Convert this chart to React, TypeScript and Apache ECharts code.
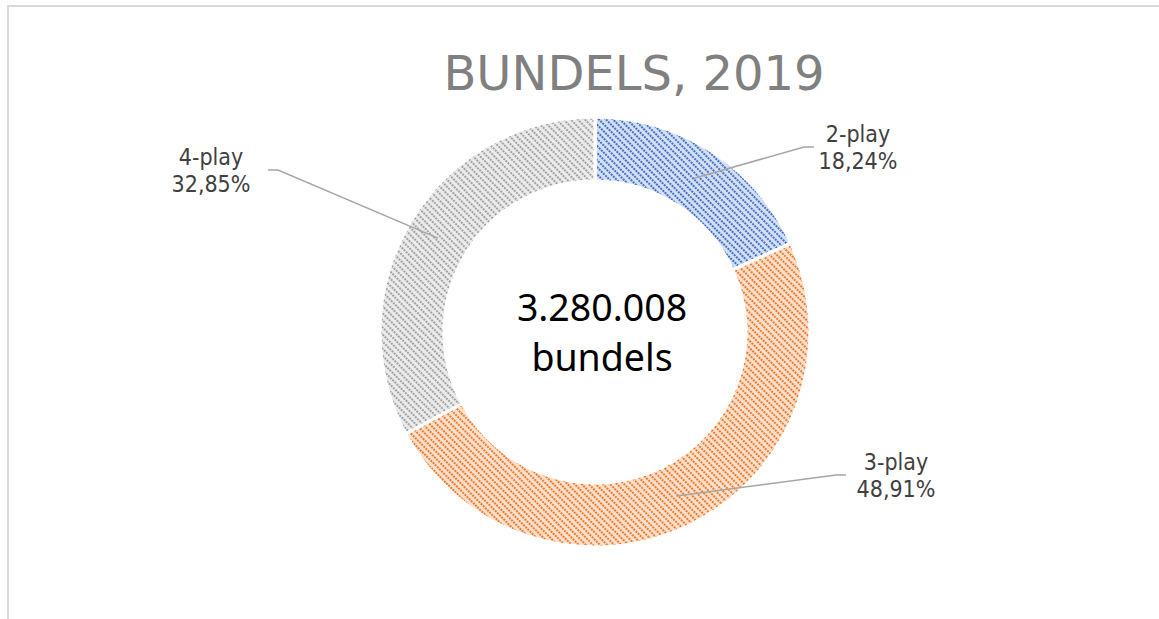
import React, { useEffect, useRef } from "react";
import * as echarts from "echarts";

const categories = ["2-play", "3-play", "4-play"];
const shares = [18.24, 48.91, 32.85];
const totalLabel = "3.280.008";
const totalUnit = "bundels";
const titleText = "BUNDELS, 2019";

const baseColors = ["#d3dff4", "#fcdfcb", "#ebebeb"];
const lineColors = ["#4472c4", "#ed7d31", "#a3a3a3"];

// layout (px)
const CX = 595;
const CY = 332;
const R_IN = 151;
const R_OUT = 215;
const labelPos = [
  [858, 147],
  [896, 475],
  [211, 170],
];
const lineEndX = [814, 846, 268];

export default function App() {
  const ref = useRef<HTMLDivElement>(null);
  useEffect(() => {
    if (!ref.current) return;
    const chart = echarts.init(ref.current, null, { renderer: "svg" });
    const total = shares.reduce((a, b) => a + b, 0);
    const rMid = (R_IN + R_OUT) / 2;
    let acc = 0;
    const leaders: any[] = [];
    shares.forEach((v, i) => {
      const midDeg = 90 - ((acc + v / 2) / total) * 360;
      acc += v;
      const a = (midDeg * Math.PI) / 180;
      const sx = CX + rMid * Math.cos(a);
      const sy = CY - rMid * Math.sin(a);
      const ex = lineEndX[i];
      const ey = labelPos[i][1];
      const isRight = ex > CX;
      const kx = isRight ? ex - 10 : ex + 10;
      leaders.push({
        type: "polyline",
        silent: true,
        z: 10,
        shape: { points: [[sx, sy], [kx, ey], [ex, ey]] },
        style: { stroke: "#a6a6a6", lineWidth: 1.5, fill: null },
      });
    });

    chart.setOption({
      animation: false,
      backgroundColor: "#ffffff",
      graphic: [
        {
          type: "line",
          silent: true,
          shape: { x1: 7, y1: 6, x2: 1159, y2: 6 },
          style: { stroke: "#d9d9d9", lineWidth: 2 },
        },
        {
          type: "line",
          silent: true,
          shape: { x1: 8, y1: 5, x2: 8, y2: 619 },
          style: { stroke: "#d9d9d9", lineWidth: 2 },
        },
        {
          type: "text",
          silent: true,
          x: 634,
          y: 73,
          style: {
            text: titleText,
            fontFamily: "DejaVu Sans",
            fontSize: 48,
            fill: "#808080",
            align: "center",
            verticalAlign: "middle",
          },
        },
        {
          type: "text",
          silent: true,
          x: 602,
          y: 331,
          style: {
            text: totalLabel + "\n" + totalUnit,
            fontFamily: "Noto Sans",
            fontSize: 37.5,
            lineHeight: 50,
            fill: "#000000",
            align: "center",
            verticalAlign: "middle",
          },
        },
        ...leaders,
      ],
      series: [
        {
          type: "pie",
          center: [CX, CY],
          radius: [R_IN, R_OUT],
          startAngle: 90,
          clockwise: true,
          silent: true,
          avoidLabelOverlap: false,
          itemStyle: { borderColor: "#ffffff", borderWidth: 3 },
          label: {
            show: true,
            position: "outside",
            fontFamily: "DejaVu Sans Condensed",
            fontSize: 23,
            lineHeight: 27,
            color: "#404040",
            align: "center",
            formatter: (p: any) =>
              p.name + "\n" + p.value.toFixed(2).replace(".", ",") + "%",
          },
          labelLine: { show: false },
          labelLayout: (params: any) => ({
            x: labelPos[params.dataIndex][0],
            y: labelPos[params.dataIndex][1],
            align: "center",
            verticalAlign: "middle",
          }),
          data: categories.map((name, i) => ({
            name,
            value: shares[i],
            itemStyle: {
              color: baseColors[i],
              decal: {
                symbol: "rect",
                symbolSize: 1,
                color: lineColors[i],
                dashArrayX: [2, 1],
                dashArrayY: [1.3, 3],
                rotation: Math.PI / 4,
              },
            },
          })),
        },
      ],
    });
    return () => chart.dispose();
  }, []);
  return (
    <div
      ref={ref}
      style={{ position: "fixed", left: 0, top: 0, width: 1159, height: 619 }}
    />
  );
}
